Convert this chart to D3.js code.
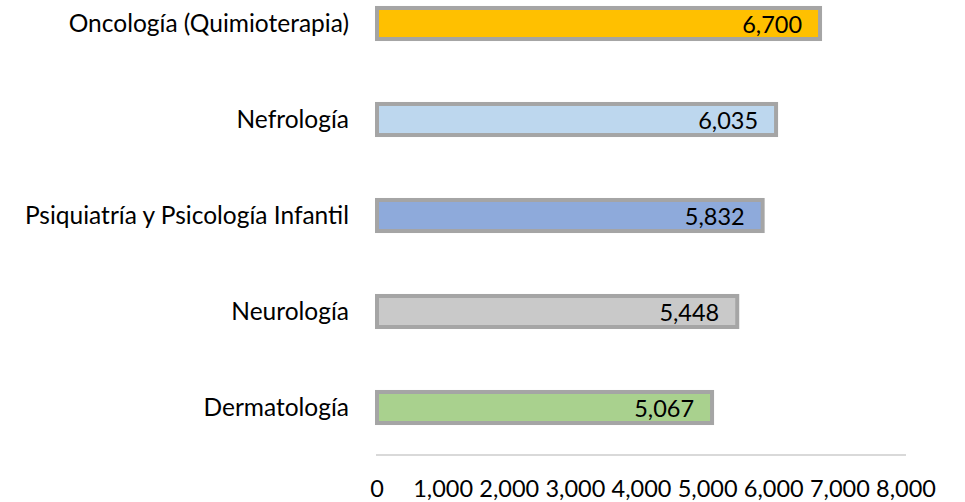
<!DOCTYPE html>
<html>
<head>
<meta charset="utf-8">
<script src="https://cdn.jsdelivr.net/npm/d3@7"></script>
<style>
  body { margin: 0; background: #fff; }
  text { font-family: Lato, "Open Sans", sans-serif; fill: #000; }
</style>
</head>
<body>
<svg id="chart" width="965" height="502"></svg>
<script>
// categories top to bottom
var categories = ["Oncología (Quimioterapia)", "Nefrología", "Psiquiatría y Psicología Infantil", "Neurología", "Dermatología"];
var values = [6700, 6035, 5832, 5448, 5067];
var barColors = ["#ffc000", "#bdd7ee", "#8eaadb", "#c9c9c9", "#a9d18e"];
var tickValues = [0, 1000, 2000, 3000, 4000, 5000, 6000, 7000, 8000];

var svg = d3.select("#chart");
var fmt = d3.format(",");

var x = d3.scaleLinear().domain([0, 8000]).range([377, 906]);
var y = d3.scaleBand().domain(categories).range([-24.5, 455.5]).paddingInner(0.635).paddingOuter(0.3175);

// axis line
svg.append("line")
    .attr("x1", x(0) - 1).attr("x2", x(8000))
    .attr("y1", 455).attr("y2", 455)
    .attr("stroke", "#d9d9d9").attr("stroke-width", 2);

// tick labels
svg.selectAll(".tick-label").data(tickValues).enter().append("text")
    .attr("class", "tick-label")
    .attr("x", function(d){ return x(d); })
    .attr("y", 497)
    .attr("text-anchor", "middle")
    .style("font-size", "23.5px")
    .text(function(d){ return fmt(d); });

// bars
svg.selectAll(".bar").data(values).enter().append("rect")
    .attr("class", "bar")
    .attr("x", x(0))
    .attr("y", function(d, i){ return y(categories[i]) + 2; })
    .attr("width", function(d){ return x(d) - x(0); })
    .attr("height", y.bandwidth() - 4)
    .attr("fill", function(d, i){ return barColors[i]; })
    .attr("stroke", "#a5a5a5")
    .attr("stroke-width", 4);

// value labels
svg.selectAll(".val").data(values).enter().append("text")
    .attr("class", "val")
    .attr("x", function(d){ return x(d) - 18; })
    .attr("y", function(d, i){ return y(categories[i]) + y.bandwidth() / 2 + 9; })
    .attr("text-anchor", "end")
    .style("font-size", "23.5px")
    .text(function(d){ return fmt(d); });

// category labels
svg.selectAll(".cat").data(categories).enter().append("text")
    .attr("class", "cat")
    .attr("x", 349)
    .attr("y", function(d){ return y(d) + y.bandwidth() / 2 + 8; })
    .attr("text-anchor", "end")
    .style("font-size", "24.5px")
    .text(function(d){ return d; });
</script>
</body>
</html>
